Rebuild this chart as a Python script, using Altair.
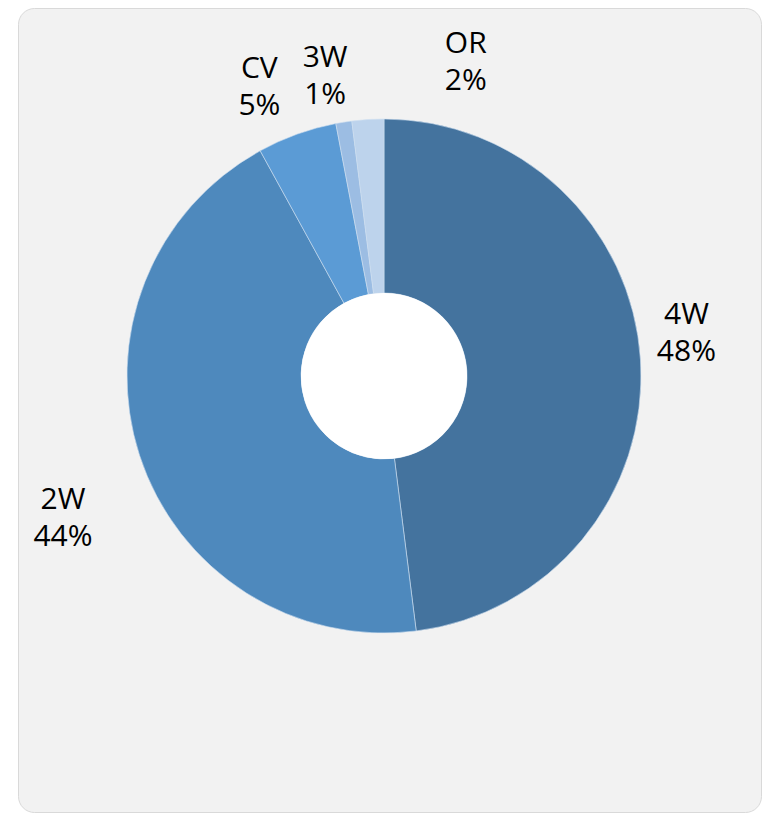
import altair as alt
import pandas as pd

categories = ["4W", "2W", "CV", "3W", "OR"]
shares = [48, 44, 5, 1, 2]
colors = ["#44739e", "#4e89bd", "#5b9bd5", "#9cbde3", "#bdd3ec"]

df = pd.DataFrame({
    "cat": categories,
    "share": shares,
    "ord": list(range(len(categories))),
    "label": [f"{c}\n{s}%" for c, s in zip(categories, shares)],
})

W, H = 756, 805
CX, CY = 376, 368
R_OUT, R_IN = 257, 83
FONT = "Segoe UI, Open Sans, sans-serif"

panel = alt.Chart(pd.DataFrame({"a": [0]})).mark_rect(
    fill="#f2f2f2", stroke="#d9d9d9", strokeWidth=1, cornerRadius=16
).encode(x=alt.value(10.5), x2=alt.value(753.5), y=alt.value(0.5), y2=alt.value(804.5))

color_scale = alt.Scale(domain=categories, range=colors)

donut = alt.Chart(df).mark_arc(
    radius=R_OUT, radius2=R_IN, stroke="#cfdff0", strokeWidth=0.6
).encode(
    theta=alt.Theta("share:Q", stack=True, scale=alt.Scale(range=[0, 6.283185307])),
    order=alt.Order("ord:Q"),
    color=alt.Color("cat:N", scale=color_scale, legend=None),
    x=alt.value(CX), y=alt.value(CY),
)

hole = alt.Chart(pd.DataFrame({"a": [0]})).mark_arc(
    radius=R_IN, fill="#ffffff"
).encode(theta=alt.value(6.283185307), x=alt.value(CX), y=alt.value(CY))

offsets = {"4W": (-3, -42), "2W": (-30, 29), "CV": (-21, -19), "3W": (-11, -16), "OR": (101, -27)}

labels = []
for c in categories:
    dx, dy = offsets[c]
    labels.append(
        alt.Chart(df).mark_text(
            radius=306, dx=dx, dy=dy, font=FONT, fontSize=30, lineHeight=37,
            color="#000000", align="center", baseline="middle", lineBreak="\n"
        ).encode(
            theta=alt.Theta("share:Q", stack=True, scale=alt.Scale(range=[0, 6.283185307])),
            order=alt.Order("ord:Q"),
            text=alt.condition(alt.datum.cat == c, "label:N", alt.value("")),
            x=alt.value(CX), y=alt.value(CY),
        )
    )

chart = alt.layer(panel, donut, hole, *labels).properties(
    width=W, height=H, padding=0, autosize=alt.AutoSizeParams(type="none"),
    background="#ffffff"
).configure_view(stroke=None)

chart.save("out.html", embed_options={"renderer": "svg", "actions": False})
